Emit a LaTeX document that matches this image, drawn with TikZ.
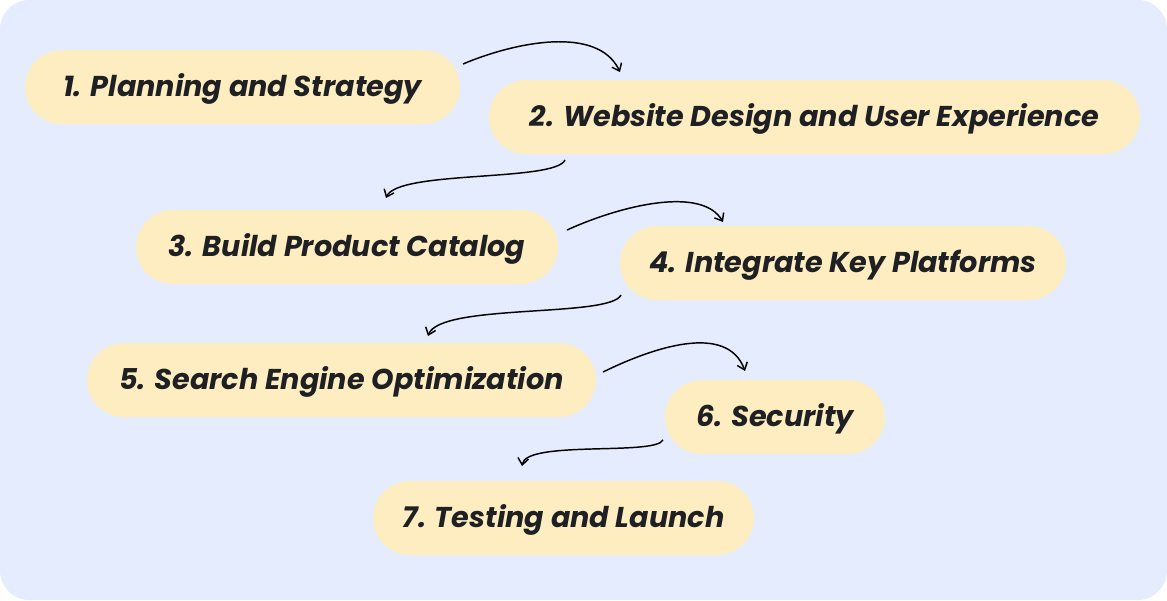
\documentclass[tikz,border=0pt]{standalone}
\usepackage{fontspec}
\setmainfont{Poppins}
\usetikzlibrary{arrows.meta}
\definecolor{bgblue}{HTML}{E5ECFD}
\definecolor{pill}{HTML}{FDEDC1}
\definecolor{ink}{HTML}{1E2024}
\tikzset{
  stepbox/.style={fill=pill, rounded corners=27.75pt, minimum height=55.5pt, inner sep=0pt,
    text=ink, text height=14.2pt, text depth=0pt,
    font=\fontsize{21.5}{25}\selectfont\bfseries\itshape},
  conn/.style={draw=black, line width=1.1pt, -{Straight Barb[length=5pt,width=8pt,line width=1.1pt]}}
}
\begin{document}
\begin{tikzpicture}[x=0.75pt,y=-0.75pt]
\fill[bgblue, rounded corners=22pt] (0,0) rectangle (1167,600);
\useasboundingbox (0,0) rectangle (1167,600);
\node[stepbox, minimum width=326.25pt] (n1) at (242.5,87) {1. Planning and Strategy};
\node[stepbox, minimum width=488.25pt] (n2) at (814.5,117) {2. Website Design and User Experience};
\node[stepbox, minimum width=316.5pt] (n3) at (347,247) {3. Build Product Catalog};
\node[stepbox, minimum width=334.5pt] (n4) at (843,263) {4. Integrate Key Platforms};
\node[stepbox, minimum width=381.75pt] (n5) at (341.5,380) {5. Search Engine Optimization};
\node[stepbox, minimum width=165pt] (n6) at (775,417) {6. Security};
\node[stepbox, minimum width=285.75pt] (n7) at (563.5,518) {7. Testing and Launch};
\coordinate (a1s) at (463,64);  \coordinate (a1e) at (620,72);
\coordinate (a2s) at (565,160); \coordinate (a2e) at (386,198);
\coordinate (a3s) at (567,230); \coordinate (a3e) at (723,222);
\coordinate (a4s) at (621,295); \coordinate (a4e) at (428,336);
\coordinate (a5s) at (603,372); \coordinate (a5e) at (745,371);
\coordinate (a6s) at (663,440); \coordinate (a6e) at (522,466);
\draw[conn] (a1s) .. controls (515,42) and (598,25) .. (a1e);
\draw[conn] (a2s) .. controls (555,182) and (398,170) .. (a2e);
\draw[conn] (a3s) .. controls (622,205) and (702,186) .. (a3e);
\draw[conn] (a4s) .. controls (610,318) and (440,303) .. (a4e);
\draw[conn] (a5s) .. controls (652,348) and (727,322) .. (a5e);
\draw[conn] (a6s) .. controls (655,456) and (526,440) .. (a6e);
\end{tikzpicture}
\end{document}
